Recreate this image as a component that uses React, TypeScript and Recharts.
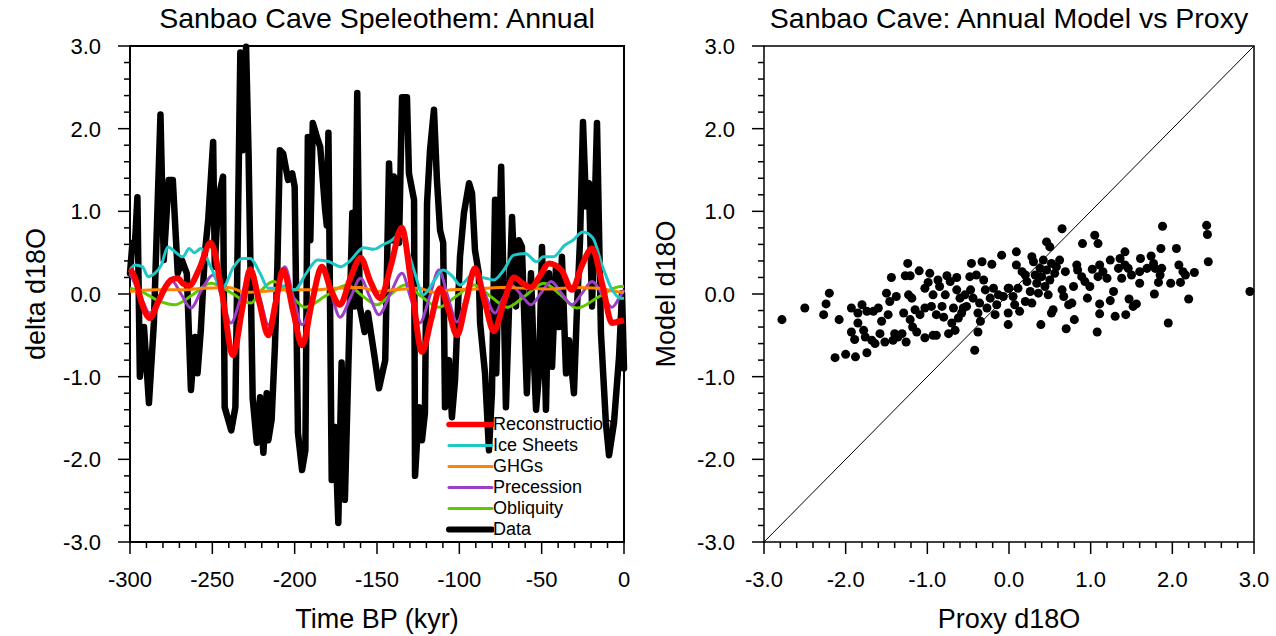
import { ComposedChart, Line, ScatterChart, Scatter, XAxis, YAxis, ReferenceArea, ReferenceLine, Legend } from 'recharts';

const FONT = '"Liberation Sans", Arial, Helvetica, sans-serif';

// time (kyr BP), delta d18O
const DATA: [number, number][] = [
  [-300, 0.25], [-298.5, 0.62], [-297, 0.6], [-295.5, 1.17], [-294, -1.0], [-291.5, -0.4], [-288.5, -1.32],
  [-285.5, -0.35], [-281.5, 2.17], [-279.5, 0.41], [-276.5, 1.38], [-274, 1.38], [-271, 0.25], [-268.5, 0.41],
  [-265.5, 0.25], [-263, -1.16], [-260.5, -0.52], [-259, -0.96], [-257, -0.44], [-254.5, 0.5], [-252.5, 0.9],
  [-249.5, 1.84], [-248.5, 0.33], [-246.5, 1.14], [-243.5, 1.42], [-242.5, -1.37], [-238.5, -1.65], [-236, -1.37],
  [-233, 2.92], [-231.5, 1.74], [-229.5, 2.99], [-228, 1.7], [-225.5, -1.26], [-223, -1.8], [-221, -1.25],
  [-219, -1.92], [-217, -1.2], [-216, -1.77], [-214, -1.52], [-212, -0.64], [-210.5, 0.33], [-209, 1.74],
  [-207, 1.7], [-204, 1.38], [-201.5, 1.46], [-200, 1.3], [-198, -1.68], [-195.5, -2.13], [-193.5, -1.89],
  [-192, 1.9], [-190.5, 0.65], [-189, 2.07], [-186.5, 1.9], [-184.5, 1.78], [-181.5, 1.02], [-180.5, 0.83],
  [-179.5, 1.95], [-177.5, -2.25], [-175.5, -1.61], [-173.5, -2.77], [-171.5, -0.83], [-169.5, -2.49],
  [-167.5, -0.96], [-165, 0.98], [-163.5, -0.15], [-162, 2.43], [-160.5, -0.15], [-157.5, -0.46], [-155.5, -0.23],
  [-151.5, -0.76], [-148.8, -1.14], [-145, -0.8], [-142.7, 1.58], [-141, 0.65], [-139.7, 1.42], [-138, 1.34],
  [-136.6, 0.62], [-134.8, 2.38], [-131.8, 2.38], [-130.6, 1.46], [-127.5, 1.14], [-126.9, -2.2], [-124.5, -1.37],
  [-122.7, -1.77], [-120.9, -1.44], [-119.6, 1.1], [-117.8, 1.74], [-115.4, 2.23], [-113.6, 1.38], [-111.7, 0.77],
  [-109.8, 0.62], [-108.7, -1.37], [-106.3, -0.8], [-104.5, -1.49], [-102.6, -1.04], [-99.6, 0.45], [-97.2, 0.98],
  [-94.1, 1.34], [-92.3, 1.22], [-90.5, 0.53], [-88.2, 0.25], [-87.4, -0.35], [-84.4, -0.96], [-82, -1.89],
  [-80.2, -1.2], [-78.3, 1.14], [-77.6, -0.96], [-74.6, 1.54], [-71.7, -1.37], [-69.8, -0.15], [-68, 0.93],
  [-65.6, -0.15], [-63.8, 0.65], [-62, 0.57], [-59, -1.2], [-56.5, 0.25], [-54.7, -0.8], [-53.4, -1.4],
  [-51.6, -0.96], [-49.8, 0.57], [-47.4, -1.4], [-45.6, 0.25], [-43.7, -0.88], [-41.3, 0.33], [-39.5, -0.4],
  [-37.7, 0.45], [-35.2, -0.96], [-33.4, -0.56], [-30.4, -1.2], [-28.5, -0.15], [-26.7, 0.65], [-24.9, 2.08],
  [-23, 1.06], [-21.3, 1.34], [-19.4, -0.15], [-16.4, 2.07], [-14, -0.47], [-11, -1.56], [-9.1, -1.95],
  [-6.1, -1.56], [-3, -0.76], [-1.2, 0.01], [0, -0.9],
];

const RECONSTRUCTION: [number, number][] = [
  [-300, 0.3], [-297, 0.2], [-293, -0.1], [-288, -0.29], [-283, -0.1], [-278, 0.1], [-275, 0.17], [-271, 0.19],
  [-268, 0.13], [-264, 0.1], [-258, 0.3], [-251, 0.62], [-244, 0.0], [-237.5, -0.74], [-232, -0.2], [-227, 0.3],
  [-221.5, -0.1], [-216, -0.5], [-211.5, -0.1], [-207, 0.29], [-201, -0.2], [-195.5, -0.62], [-189.5, -0.1],
  [-183.5, 0.33], [-178, 0.05], [-172.5, -0.13], [-166, 0.2], [-160, 0.44], [-154, 0.15], [-148, -0.05],
  [-141.5, 0.35], [-135, 0.8], [-129, 0.1], [-122.7, -0.7], [-117, -0.3], [-111.7, 0.07], [-106.5, -0.2],
  [-101.4, -0.5], [-96, -0.1], [-90.5, 0.31], [-84.5, -0.1], [-79, -0.45], [-73, -0.1], [-66.8, 0.2],
  [-61.5, 0.13], [-56.5, 0.08], [-51, 0.22], [-45.6, 0.37], [-38, 0.29], [-31.6, 0.05], [-25.5, 0.35],
  [-19.4, 0.55], [-13, 0.1], [-7.3, -0.35], [-3, -0.33], [0, -0.32],
];

const ICE_SHEETS: [number, number][] = [
  [-300, 0.29], [-297, 0.35], [-292.5, 0.33], [-289, 0.21], [-285, 0.25], [-281, 0.35], [-277, 0.57], [-272, 0.5],
  [-268, 0.45], [-264, 0.55], [-261, 0.5], [-257, 0.55], [-251, 0.33], [-244, 0.07], [-237, 0.33], [-232, 0.43],
  [-227, 0.43], [-221, 0.25], [-216, 0.07], [-210.5, 0.07], [-206, 0.1], [-200, 0.05], [-193, 0.25], [-186, 0.41],
  [-179, 0.39], [-172, 0.33], [-167, 0.39], [-158, 0.56], [-152, 0.54], [-147, 0.59], [-141, 0.65], [-136, 0.73],
  [-132, 0.57], [-127, 0.25], [-122, -0.01], [-115, 0.17], [-110, 0.29], [-104, 0.21], [-99.5, 0.11], [-92, 0.23],
  [-84, 0.19], [-79, 0.17], [-73, 0.29], [-67, 0.47], [-60, 0.49], [-53, 0.39], [-49, 0.45], [-43, 0.45],
  [-36, 0.59], [-31, 0.65], [-25, 0.75], [-19, 0.68], [-13, 0.33], [-8, 0.08], [-2, -0.05], [0, -0.05],
];

const GHGS: [number, number][] = [
  [-300, 0.03], [-285, 0.05], [-270, 0.05], [-255, 0.07], [-240, 0.08], [-230, 0.02], [-220, 0.03], [-205, 0.05],
  [-190, 0.05], [-175, 0.07], [-160, 0.08], [-150, 0.03], [-140, 0.05], [-125, 0.07], [-115, 0.02], [-105, 0.05],
  [-90, 0.06], [-75, 0.08], [-60, 0.07], [-45, 0.06], [-30, 0.08], [-15, 0.07], [-5, 0.03], [0, 0.02],
];

const PRECESSION: [number, number][] = [
  [-300, 0.25], [-294, 0.0], [-288, -0.23], [-281.5, 0.0], [-275, 0.17], [-269, 0.0], [-263, -0.17], [-256.5, 0.05],
  [-249.6, 0.23], [-244, -0.05], [-238.7, -0.35], [-232.5, -0.03], [-226.5, 0.29], [-221, -0.05], [-216, -0.37],
  [-211, -0.02], [-206, 0.33], [-201, -0.02], [-195.5, -0.37], [-189, -0.03], [-183, 0.31], [-178, 0.02],
  [-172.5, -0.28], [-166, -0.04], [-160, 0.19], [-154.5, -0.03], [-148.8, -0.25], [-142, 0.0], [-134.8, 0.25],
  [-129.5, -0.05], [-124, -0.35], [-118, -0.03], [-112.4, 0.29], [-107, -0.03], [-101.4, -0.34], [-96, -0.04],
  [-90.5, 0.25], [-84.5, 0.0], [-78.3, -0.23], [-73.5, -0.05], [-68.6, 0.11], [-62.5, -0.01], [-56.5, -0.13],
  [-50.5, 0.01], [-44.3, 0.15], [-38, 0.01], [-31.6, -0.13], [-25.5, 0.01], [-19.4, 0.15], [-13.3, 0.0],
  [-7.3, -0.16], [-3, -0.05], [0, 0.05],
];

const OBLIQUITY: [number, number][] = [
  [-300, 0.07], [-293, 0.03], [-283, -0.08], [-272.7, -0.13], [-262, -0.01], [-251, 0.13], [-239, 0.02],
  [-226.5, -0.11], [-220, 0.05], [-213, 0.15], [-203, 0.0], [-193.7, -0.16], [-181, -0.02], [-168, 0.11],
  [-159, -0.02], [-150, -0.13], [-141.5, 0.0], [-133, 0.11], [-123, -0.03], [-112.4, -0.16], [-101.5, -0.02],
  [-91, 0.11], [-81, -0.03], [-71, -0.16], [-60, -0.02], [-48.6, 0.13], [-38.5, -0.01], [-28.5, -0.17],
  [-15, -0.03], [-2, 0.09], [0, 0.09],
];

// proxy d18O, model d18O
const SCATTER: [number, number][] = [
  [-2.78, -0.31], [-2.5, -0.17], [-2.2, 0.01], [-2.24, -0.12], [-2.27, -0.25], [-2.08, -0.31], [-2.13, -0.77],
  [-2.0, -0.73], [-1.88, -0.76], [-1.74, -0.71], [-1.93, -0.17], [-1.93, -0.46], [-1.89, -0.55], [-1.85, -0.23],
  [-1.85, -0.35], [-1.8, -0.13], [-1.78, -0.44], [-1.76, -0.52], [-1.74, -0.21], [-1.68, -0.56], [-1.66, -0.21],
  [-1.64, -0.6], [-1.6, -0.17], [-1.58, -0.48], [-1.56, -0.33], [-1.52, -0.58], [-1.5, 0.01], [-1.48, -0.25],
  [-1.46, -0.09], [-1.44, 0.2], [-1.42, -0.56], [-1.4, -0.48], [-1.38, -0.03], [-1.36, -0.52], [-1.31, -0.48],
  [-1.27, 0.22], [-1.29, -0.23], [-1.26, -0.58], [-1.24, 0.37], [-1.21, 0.22], [-1.23, -0.01], [-1.21, -0.31],
  [-1.19, -0.05], [-1.18, -0.4], [-1.15, -0.19], [-1.13, -0.46], [-1.1, 0.28], [-1.09, -0.25], [-1.03, -0.53],
  [-1.03, -0.17], [-1.03, 0.07], [-0.99, 0.14], [-0.97, 0.25], [-0.95, -0.15], [-0.93, -0.5], [-0.93, -0.01],
  [-0.89, -0.5], [-0.89, -0.25], [-0.87, 0.17], [-0.85, 0.09], [-0.82, -0.15], [-0.8, -0.28], [-0.78, -0.01],
  [-0.76, 0.22], [-0.74, -0.48], [-0.72, 0.15], [-0.7, -0.35], [-0.68, -0.17], [-0.66, -0.44], [-0.64, 0.2],
  [-0.64, 0.05], [-0.62, -0.29], [-0.6, -0.05], [-0.58, -0.23], [-0.56, -0.17], [-0.54, -0.01], [-0.52, -0.15],
  [-0.48, 0.21], [-0.46, 0.37], [-0.47, 0.05], [-0.44, -0.05], [-0.42, -0.68], [-0.4, 0.23], [-0.38, -0.23],
  [-0.38, -0.46], [-0.36, -0.11], [-0.35, -0.33], [-0.33, 0.39], [-0.31, 0.17], [-0.29, 0.05], [-0.27, -0.17],
  [-0.23, -0.05], [-0.21, 0.36], [-0.19, 0.07], [-0.17, -0.25], [-0.15, -0.13], [-0.13, -0.01], [-0.09, 0.47],
  [-0.07, -0.03], [-0.01, 0.07], [-0.01, -0.23], [-0.01, -0.37], [0.0, 0.07], [0.05, -0.03], [0.07, -0.13],
  [0.09, 0.51], [0.09, 0.35], [0.11, 0.07], [0.13, -0.21], [0.16, 0.27], [0.2, 0.23], [0.2, -0.09], [0.22, 0.15],
  [0.26, 0.03], [0.28, 0.45], [0.28, -0.11], [0.3, 0.39], [0.32, 0.23], [0.34, 0.13], [0.36, 0.01], [0.38, 0.31],
  [0.39, -0.37], [0.4, 0.21], [0.42, 0.41], [0.44, 0.09], [0.46, 0.63], [0.46, 0.29], [0.48, -0.01], [0.5, 0.57],
  [0.5, 0.17], [0.52, 0.37], [0.52, -0.23], [0.54, -0.19], [0.56, 0.25], [0.58, 0.33], [0.62, 0.41], [0.65, 0.79],
  [0.65, 0.05], [0.67, -0.03], [0.69, 0.27], [0.7, -0.42], [0.73, -0.13], [0.77, -0.11], [0.79, 0.09], [0.8, -0.31],
  [0.83, 0.35], [0.84, 0.29], [0.89, 0.21], [0.9, 0.61], [0.93, 0.15], [0.96, -0.05], [0.99, 0.09], [1.02, 0.3],
  [1.05, 0.71], [1.09, 0.61], [1.09, 0.21], [1.11, -0.12], [1.11, 0.35], [1.11, -0.24], [1.08, -0.46], [1.15, 0.27],
  [1.2, 0.19], [1.24, -0.08], [1.24, 0.41], [1.28, 0.03], [1.3, -0.27], [1.34, 0.31], [1.36, 0.43], [1.38, 0.19],
  [1.42, 0.51], [1.42, 0.35], [1.43, -0.25], [1.46, 0.31], [1.47, -0.06], [1.5, 0.23], [1.52, -0.15], [1.56, -0.12],
  [1.6, 0.27], [1.6, 0.13], [1.61, 0.43], [1.69, 0.31], [1.74, 0.46], [1.77, 0.37], [1.78, 0.0], [1.79, 0.31],
  [1.83, 0.14], [1.85, 0.23], [1.86, 0.55], [1.87, 0.31], [1.88, 0.82], [1.95, -0.35], [1.98, 0.13], [2.05, 0.55],
  [2.08, 0.35], [2.1, 0.14], [2.13, 0.27], [2.16, 0.23], [2.2, -0.06], [2.27, 0.26], [2.42, 0.83], [2.43, 0.72],
  [2.44, 0.39], [2.95, 0.03],
];

const TIME_TICKS = [-300, -250, -200, -150, -100, -50, 0];
const D18O_TICKS = [-3, -2, -1, 0, 1, 2, 3];

const LEGEND_ITEMS = [
  { name: 'Reconstruction', color: '#ff0000', width: 5.5 },
  { name: 'Ice Sheets', color: '#1ec8c8', width: 3 },
  { name: 'GHGs', color: '#ff8200', width: 3 },
  { name: 'Precession', color: '#9b3fc8', width: 3 },
  { name: 'Obliquity', color: '#5fc800', width: 3 },
  { name: 'Data', color: '#000000', width: 6 },
];

const timeMinor = Array.from({ length: 31 }, (_, i) => -300 + 10 * i);
const d18oMinor = Array.from({ length: 31 }, (_, i) => (i - 15) / 5);

const isMajor = (majors: number[], v: number) => majors.some((m) => Math.abs(m - v) < 1e-9);
const fmt1 = (v: number) => (Math.round(v * 10) / 10 + 0).toFixed(1);

const toPts = (arr: [number, number][]) => arr.map(([t, v]) => ({ t, v }));

const makeYTick = (majors: number[]) => (props: any) => {
  const { x, y, payload } = props;
  const major = isMajor(majors, payload.value);
  return (
    <g>
      <line x1={x} x2={x - (major ? 12 : 6)} y1={y} y2={y} stroke="#000" strokeWidth={1.5} />
      {major && (
        <text x={x - 29} y={y} dy="0.36em" textAnchor="end" fontSize={22} fill="#000">
          {fmt1(payload.value)}
        </text>
      )}
    </g>
  );
};

const makeXTick = (majors: number[], format: (v: number) => string) => (props: any) => {
  const { x, y, payload } = props;
  const major = isMajor(majors, payload.value);
  return (
    <g>
      <line x1={x} x2={x} y1={y} y2={y + (major ? 12 : 6)} stroke="#000" strokeWidth={1.5} />
      {major && (
        <text x={x} y={y + 45} textAnchor="middle" fontSize={22} fill="#000">
          {format(payload.value)}
        </text>
      )}
    </g>
  );
};

const TimeSeriesLegend = () => (
  <div style={{ fontFamily: FONT, fontSize: 18, color: '#000' }}>
    {LEGEND_ITEMS.map((item) => (
      <div key={item.name} style={{ display: 'flex', alignItems: 'center', height: 21, whiteSpace: 'nowrap' }}>
        <svg width={48} height={21} style={{ flex: 'none' }}>
          <line x1={3} x2={46} y1={10.5} y2={10.5} stroke={item.color} strokeWidth={item.width} strokeLinecap="round" />
        </svg>
        <span style={{ marginLeft: -1 }}>{item.name}</span>
      </div>
    ))}
  </div>
);

const titleStyle = (left: number, width: number): React.CSSProperties => ({
  position: 'absolute',
  left,
  width,
  top: 0,
  textAlign: 'center',
  fontSize: 28.5,
  lineHeight: '36px',
  whiteSpace: 'nowrap',
});

const App = () => {
  return (
    <div style={{ position: 'absolute', left: 0, top: 0, width: 1276, height: 636, background: '#fff', fontFamily: FONT }}>
      <div style={{ position: 'absolute', left: 0, top: 0, width: 640, height: 636 }}>
        <ComposedChart width={640} height={636} margin={{ top: 46, right: 16, bottom: 0, left: 0 }}>
          <XAxis
            type="number"
            dataKey="t"
            domain={[-300, 0]}
            ticks={timeMinor}
            interval={0}
            height={94}
            axisLine={false}
            tickLine={false}
            tickSize={0}
            tickMargin={0}
            tick={makeXTick(TIME_TICKS, (v) => String(Math.round(v)))}
            label={{ value: 'Time BP (kyr)', position: 'insideBottom', offset: 8, fontSize: 27, fill: '#000' }}
          />
          <YAxis
            type="number"
            domain={[-3, 3]}
            ticks={d18oMinor}
            interval={0}
            width={130}
            axisLine={false}
            tickLine={false}
            tickSize={0}
            tickMargin={0}
            tick={makeYTick(D18O_TICKS)}
            label={{ value: 'delta d18O', angle: -90, position: 'insideLeft', offset: 35, fontSize: 27, fill: '#000', style: { textAnchor: 'middle' } }}
          />
          <ReferenceArea x1={-300} x2={0} y1={-3} y2={3} fill="none" stroke="#000" strokeWidth={2} ifOverflow="visible" />
          <Line data={toPts(DATA)} dataKey="v" type="linear" stroke="#000" strokeWidth={6.5} strokeLinejoin="round" strokeLinecap="round" dot={false} activeDot={false} isAnimationActive={false} />
          <Line data={toPts(OBLIQUITY)} dataKey="v" type="monotone" stroke={LEGEND_ITEMS[4].color} strokeWidth={3} dot={false} activeDot={false} isAnimationActive={false} />
          <Line data={toPts(PRECESSION)} dataKey="v" type="monotone" stroke={LEGEND_ITEMS[3].color} strokeWidth={3} dot={false} activeDot={false} isAnimationActive={false} />
          <Line data={toPts(GHGS)} dataKey="v" type="monotone" stroke={LEGEND_ITEMS[2].color} strokeWidth={3} dot={false} activeDot={false} isAnimationActive={false} />
          <Line data={toPts(ICE_SHEETS)} dataKey="v" type="monotone" stroke={LEGEND_ITEMS[1].color} strokeWidth={3} strokeLinejoin="round" dot={false} activeDot={false} isAnimationActive={false} />
          <Line data={toPts(RECONSTRUCTION)} dataKey="v" type="monotone" stroke={LEGEND_ITEMS[0].color} strokeWidth={6} dot={false} activeDot={false} isAnimationActive={false} />
          <Legend
            layout="vertical"
            align="center"
            verticalAlign="middle"
            wrapperStyle={{ left: 446, top: 414, width: 178, height: 128, overflow: 'hidden' }}
            content={() => <TimeSeriesLegend />}
          />
        </ComposedChart>
        <div style={titleStyle(130, 494)}>Sanbao Cave Speleothem: Annual</div>
      </div>

      <div style={{ position: 'absolute', left: 640, top: 0, width: 636, height: 636 }}>
        <ScatterChart width={636} height={636} margin={{ top: 46, right: 22, bottom: 0, left: 0 }}>
          <XAxis
            type="number"
            dataKey="x"
            domain={[-3, 3]}
            ticks={d18oMinor}
            interval={0}
            height={94}
            axisLine={false}
            tickLine={false}
            tickSize={0}
            tickMargin={0}
            tick={makeXTick(D18O_TICKS, fmt1)}
            label={{ value: 'Proxy d18O', position: 'insideBottom', offset: 8, fontSize: 27, fill: '#000' }}
          />
          <YAxis
            type="number"
            dataKey="y"
            domain={[-3, 3]}
            ticks={d18oMinor}
            interval={0}
            width={124}
            axisLine={false}
            tickLine={false}
            tickSize={0}
            tickMargin={0}
            tick={makeYTick(D18O_TICKS)}
            label={{ value: 'Model d18O', angle: -90, position: 'insideLeft', offset: 25, fontSize: 27, fill: '#000', style: { textAnchor: 'middle' } }}
          />
          <ReferenceArea x1={-3} x2={3} y1={-3} y2={3} fill="none" stroke="#000" strokeWidth={1.5} ifOverflow="visible" />
          <ReferenceLine segment={[{ x: -3, y: -3 }, { x: 3, y: 3 }]} stroke="#000" strokeWidth={1} />
          <Scatter data={SCATTER.map(([x, y]) => ({ x, y }))} fill="#000" isAnimationActive={false} />
        </ScatterChart>
        <div style={titleStyle(124, 490)}>Sanbao Cave: Annual Model vs Proxy</div>
      </div>
    </div>
  );
};

export default App;
